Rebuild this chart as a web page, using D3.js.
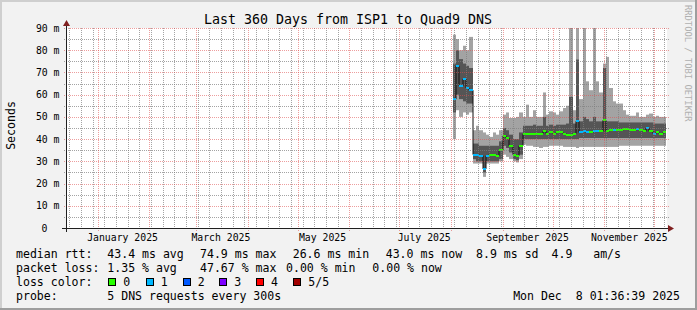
<!DOCTYPE html>
<html><head><meta charset="utf-8">
<script src="https://cdn.jsdelivr.net/npm/d3@7"></script>
<style>
html,body{margin:0;padding:0;background:#f2f2f2;overflow:hidden}
svg{display:block}
text{font-family:"DejaVu Sans Mono",monospace;fill:#000;white-space:pre}
</style>
</head><body>
<svg id="c" width="697" height="310"></svg>
<script>
// ---------------- data ----------------
const title = "Last 360 Days from ISP1 to Quad9 DNS";
const yAxisTitle = "Seconds";
const watermark = "RRDTOOL / TOBI OETIKER";
const endTime = "2025-12-08T01:36:39Z";
const spanDays = 360;
const firstBin = "2025-08-02T00:00:00Z";
const binHours = 48;
const yTicks = [0,10,20,30,40,50,60,70,80,90];
const xLabelMonths = ["2025-01-01","2025-03-01","2025-05-01","2025-07-01","2025-09-01","2025-11-01"];

// smoke bands (ms): lightest band lo..hi, dark band dlo..dhi, median, loss bucket
const lo  = [40,53,50,52,51,52, 29,29,29,23,29,29,29,29,30, 33,32,31,30,29.5,31,
  37.5,37,37,36.5,36.5,36,36.5,36.5,37,37,37,37, 36.5,36.5,36.5,36.5,36,36.5,36.5,36.5,36.5,36.5,36.5,36.5,36.5,36.5,36.5,36.5,36.5,
  37,37,37,37,37,37,37,37,37,37,37,37,37,37];
const dlo = [52,60,58,57,56,56, 31,30,30,25,30,30,30,30,31, 37,36,34,31,30.5,33,
  40,40,40,40,40,40,40,40,40,40,40,40, 40,40,40,40,40,40.5,40.5,40.5,40.5,40.5,40.5,40.5,40.5,40.5,40.5,40.5,40.5,
  40.5,40.5,40.5,40.5,40.5,40.5,40.5,40.5,40.5,40.5,40.5,40.5,40.5,40.5];
const med = [58,73,64,67,63,62, 33,33,32.5,26.6,32.5,33,33,32.5,35, 41.5,40.5,37,33,32.5,37,
  42.2,42.5,42.5,42.5,42.5,42.5,43.5,42.5,43,42.5,43,43, 42.5,42,42,42.5,48,43,43.5,43,43,43.5,43.5,43.5,48.5,43.5,44,44,44,
  44,44.5,44.5,44,44,44.5,44,43.5,45,43.5,42.5,43,42.5,43];
const dhi = [74,80,76,74,73,72, 38,38,37,37,37,37,37,37,39, 45,44,42,40,40,43,
  46,46,46,46.5,46,46,50,46,46.5,46,46.5,46.5, 46.5,47,59,47,75.8,48,50,49,48,50,48,48,72,48,48,48,48,
  47.5,47.5,47.5,47.5,47.5,47.5,47.5,47.5,47.5,47.5,47,47,47,47];
const hi  = [87,85,80,82,80,86, 44,46,44,43,42,41,43,42,44, 51,52,49.5,49.5,50,52,
  50,55.5,50,53,50,50,61,51,52.5,52,51,52.5, 54,55,95,53,95,58,95,66,62,95,66,61,74,77,63,57,56,
  56,53,51,50.5,50.5,52,50,50,51,51.5,50,50.5,50,50];
const loss = [1,1,1,1,1,1, 1,1,1,1,1,0,0,0,0, 0,0,0,0,0,0,
  0,0,0,0,0,0,0,0,0,0,0,0, 0,0,0,0,1,1,1,1,0,1,1,0,0,0,0,1,0,
  0,0,0,0,0,1,0,0,1,0,1,0,0,0];

const lossLabels = ["0","1","2","3","4","5/5"];
const lossColors = ["#26ff00","#00b8ff","#0059ff","#7e00ff","#ff0000","#a10000"];

const legendRtt  = ["median rtt:","43.4 ms avg","74.9 ms max","26.6 ms min","43.0 ms now","8.9 ms sd","4.9   am/s"];
const legendLoss = ["packet loss:","1.35 % avg","47.67 % max","0.00 % min","0.00 % now"];
const legendColorTitle = "loss color:";
const legendProbe = ["probe:","5 DNS requests every 300s"];
const stamp = "Mon Dec  8 01:36:39 2025";

// ---------------- layout ----------------
const W = 697, H = 310;
const svg = d3.select("#c");
const end = new Date(endTime);
const start = new Date(+end - spanDays*864e5);
const x = d3.scaleUtc().domain([start,end]).range([66,666]);
const y = d3.scaleLinear().domain([0,90]).range([228,28]);

const defs = svg.append("defs");
defs.append("clipPath").attr("id","clip")
  .append("rect").attr("x",67).attr("y",28).attr("width",600).attr("height",200);
function dotPattern(id, horiz, color){
  const p = defs.append("pattern").attr("id",id).attr("patternUnits","userSpaceOnUse")
    .attr("width",horiz?2:1).attr("height",horiz?1:2);
  p.append("rect").attr("width",1).attr("height",1).attr("fill",color);
}
const minorCol = "rgba(125,125,125,0.7)", majorCol = "rgba(222,79,79,0.55)";
dotPattern("pHmin",true,minorCol); dotPattern("pVmin",false,minorCol);
dotPattern("pHmaj",true,majorCol); dotPattern("pVmaj",false,majorCol);

svg.append("rect").attr("width",W).attr("height",H).attr("fill","#f2f2f2");
svg.append("rect").attr("x",0).attr("y",0).attr("width",W).attr("height",2).attr("fill","#cfcfcf");
svg.append("rect").attr("x",0).attr("y",0).attr("width",2).attr("height",H).attr("fill","#cfcfcf");
svg.append("rect").attr("x",0).attr("y",H-2).attr("width",W).attr("height",2).attr("fill","#9e9e9e");
svg.append("rect").attr("x",W-2).attr("y",0).attr("width",2).attr("height",H).attr("fill","#9e9e9e");

svg.append("rect").attr("x",67).attr("y",28).attr("width",600).attr("height",200).attr("fill","#fff");

const t0 = new Date(firstBin);
const bins = med.map((m,i)=>({
  t: new Date(+t0 + i*binHours*36e5),
  t1: new Date(+t0 + (i+1)*binHours*36e5),
  lo: lo[i], dlo: dlo[i], med: m, dhi: dhi[i], hi: hi[i], loss: loss[i]
}));
const bx = d => Math.round(x(d.t));
const bw = d => Math.min(Math.round(x(d.t1)), 666) - Math.round(x(d.t));

const g = svg.append("g").attr("clip-path","url(#clip)");
g.selectAll("rect.lt").data(bins).join("rect").attr("class","lt")
  .attr("x",bx).attr("width",bw)
  .attr("y",d=>y(d.hi)).attr("height",d=>y(d.lo)-y(d.hi))
  .attr("fill","#a3a3a3");
g.selectAll("rect.dk").data(bins).join("rect").attr("class","dk")
  .attr("x",bx).attr("width",bw)
  .attr("y",d=>y(d.dhi)).attr("height",d=>y(d.dlo)-y(d.dhi))
  .attr("fill","#555555");
const medLine = d3.line().x(d=>bx(d)).y(d=>y(d.med)).curve(d3.curveStepAfter);
g.append("path").datum(bins.concat([{t:bins[bins.length-1].t1, med:bins[bins.length-1].med}]))
  .attr("d",medLine).attr("fill","none").attr("stroke","#111").attr("stroke-width",1);
g.selectAll("rect.md").data(bins).join("rect").attr("class","md")
  .attr("x",bx).attr("width",bw)
  .attr("y",d=>Math.round(y(d.med))-1).attr("height",2)
  .attr("fill",d=>lossColors[d.loss]);

// grid on top (dotted via patterns)
const grid = svg.append("g");
const minorY = d3.range(5,90,10);
grid.selectAll("rect.hmin").data(minorY).join("rect").attr("class","hmin")
  .attr("x",64).attr("width",605).attr("y",v=>Math.round(y(v))).attr("height",1)
  .attr("fill","url(#pHmin)");
const sundays = d3.utcSunday.range(start,end).filter(d=>d.getUTCDate()!==1);
grid.selectAll("rect.vmin").data(sundays).join("rect").attr("class","vmin")
  .attr("x",d=>Math.round(x(d))).attr("width",1).attr("y",28).attr("height",202)
  .attr("fill","url(#pVmin)");
grid.selectAll("rect.hmaj").data(yTicks.filter(v=>v>0)).join("rect").attr("class","hmaj")
  .attr("x",63).attr("width",606).attr("y",v=>Math.round(y(v))).attr("height",1)
  .attr("fill","url(#pHmaj)");
const months = d3.utcMonth.range(d3.utcMonth.ceil(start),end);
grid.selectAll("rect.vmaj").data(months).join("rect").attr("class","vmaj")
  .attr("x",d=>Math.round(x(d))).attr("width",1).attr("y",28).attr("height",203)
  .attr("fill","url(#pVmaj)");

// axes
svg.append("rect").attr("x",62).attr("y",228).attr("width",608).attr("height",1).attr("fill","#1f1f1f");
svg.append("rect").attr("x",66).attr("y",24).attr("width",1).attr("height",208).attr("fill","#1f1f1f");
svg.append("path").attr("d","M668,225L674,228.5L668,232Z").attr("fill","#801f1f");
svg.append("path").attr("d","M63,26L66.5,20L70,26Z").attr("fill","#801f1f");

// y tick labels
svg.selectAll("text.yl").data(yTicks).join("text").attr("class","yl")
  .attr("x",v=>v===0?47.5:59.5).attr("y",v=>y(v)+3.5)
  .attr("text-anchor","end").style("font-size","9.8px")
  .text(v=>v===0?"0":v+" m");

// x labels
const fmt = d3.utcFormat("%B %Y");
svg.selectAll("text.xl").data(xLabelMonths.map(s=>new Date(s+"T00:00:00Z"))).join("text").attr("class","xl")
  .attr("x",d=>x(new Date(+d+15*864e5))).attr("y",241)
  .attr("text-anchor","middle").style("font-size","9.8px")
  .text(d=>fmt(d));

// title & axis title & watermark
svg.append("text").attr("x",348).attr("y",24).attr("text-anchor","middle")
  .style("font-size","13.3px").text(title);
svg.append("text").attr("transform","translate(15,125.5) rotate(-90)")
  .attr("text-anchor","middle").style("font-size","11.55px").text(yAxisTitle);
svg.append("text").attr("transform","translate(685,5) rotate(90)")
  .style("font-size","8.8px").style("fill","#b0b0b0").text(watermark);

// legend
const lf = "11.55px";
const rowY = [258,272,286,299.5];
const rttX = [16,107.3,200,292.7,385.7,476,551.5];
const lossX = [16,107.3,200,286,372.3];
svg.selectAll("text.r1").data(legendRtt).join("text").attr("class","r1")
  .attr("x",(d,i)=>rttX[i]).attr("y",rowY[0]).style("font-size",lf).text(d=>d);
svg.selectAll("text.r2").data(legendLoss).join("text").attr("class","r2")
  .attr("x",(d,i)=>lossX[i]).attr("y",rowY[1]).style("font-size",lf).text(d=>d);
svg.append("text").attr("x",16).attr("y",rowY[2]).style("font-size",lf).text(legendColorTitle);
const boxX = [108.3,145.7,182.7,219.3,256,293.3];
svg.selectAll("rect.lb").data(lossColors).join("rect").attr("class","lb")
  .attr("x",(d,i)=>Math.round(boxX[i])+0.5).attr("y",278.5).attr("width",7).attr("height",7)
  .attr("fill",d=>d).attr("stroke","#000").attr("stroke-width",1);
svg.selectAll("text.ll").data(lossLabels).join("text").attr("class","ll")
  .attr("x",(d,i)=>boxX[i]+15).attr("y",rowY[2]).style("font-size",lf).text(d=>d);
svg.append("text").attr("x",16).attr("y",rowY[3]).style("font-size",lf).text(legendProbe[0]);
svg.append("text").attr("x",107.3).attr("y",rowY[3]).style("font-size",lf).text(legendProbe[1]);
svg.append("text").attr("x",680).attr("y",rowY[3]).attr("text-anchor","end")
  .style("font-size",lf).text(stamp);
</script>
</body></html>
